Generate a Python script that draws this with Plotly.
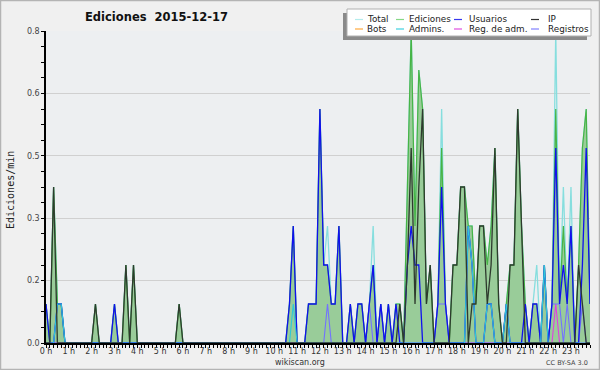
import plotly.graph_objects as go

# ---------------- data (edits per minute, 10-minute bins, 2015-12-17) ----------------
minutes = list(range(0, 1440, 10))
hour_labels = [f"{h} h" for h in range(24)]
y_tickvals = [0, 0.16, 0.32, 0.48, 0.64, 0.8]
y_ticktext = ["0.0", "0.2", "0.3", "0.5", "0.6", "0.8"]

total = [
    .1, 0, .4, .1, .1, 0,   # 0 h
    0, 0, 0, 0, 0, 0,       # 1 h
    0, .1, 0, 0, 0, 0,      # 2 h
    .1, 0, 0, .2, 0, .2,    # 3 h
    0, 0, 0, 0, 0, 0,       # 4 h
    0, 0, 0, 0, 0, .1,      # 5 h
    0, 0, 0, 0, 0, 0,       # 6 h
    0, 0, 0, 0, 0, 0,       # 7 h
    0, 0, 0, 0, 0, 0,       # 8 h
    0, 0, 0, 0, 0, 0,       # 9 h
    0, 0, 0, 0, .1, .3,     # 10 h
    0, 0, 0, .1, .1, .1,    # 11 h
    .6, .2, .3, .1, .1, .3, # 12 h
    0, 0, .1, 0, .1, .1,    # 13 h
    0, .1, .3, 0, .1, 0,    # 14 h
    .1, 0, .1, .1, 0, .4,   # 15 h
    .8, .3, .7, .6, .1, .2, # 16 h
    0, .1, .6, .1, 0, .2,   # 17 h
    .2, .4, .4, .3, .3, .1, # 18 h
    .3, .3, .2, .3, .5, .1, # 19 h
    0, .1, .2, .2, .6, .3,  # 20 h
    .1, 0, .1, .2, 0, .2,   # 21 h
    0, .1, .8, .1, .4, .1,  # 22 h
    .4, 0, .2, .5, .6, .1,  # 23 h
]

ediciones = [
    .1, 0, .4, .1, .1, 0,
    0, 0, 0, 0, 0, 0,
    0, .1, 0, 0, 0, 0,
    .1, 0, 0, .2, 0, .2,
    0, 0, 0, 0, 0, 0,
    0, 0, 0, 0, 0, .1,
    0, 0, 0, 0, 0, 0,
    0, 0, 0, 0, 0, 0,
    0, 0, 0, 0, 0, 0,
    0, 0, 0, 0, 0, 0,
    0, 0, 0, 0, .1, .3,
    0, 0, 0, .1, .1, .1,
    .6, .2, .2, .1, .1, .3,
    0, 0, .1, 0, .1, .1,
    0, .1, .2, 0, .1, 0,
    .1, 0, .1, .1, 0, .4,
    .8, .3, .7, .6, .1, .2,
    0, .1, .5, .1, 0, .2,
    .2, .4, .4, .3, .3, .1,
    .3, .3, .2, .3, .5, .1,
    0, .1, .2, .2, .6, .3,
    .1, 0, .1, .1, 0, .2,
    0, .1, .6, .1, .3, .1,
    .3, 0, .2, .5, .6, .1,
]

usuarios = [
    .1, 0, 0, .1, .1, 0,
    0, 0, 0, 0, 0, 0,
    0, 0, 0, 0, 0, 0,
    .1, 0, 0, 0, 0, 0,
    0, 0, 0, 0, 0, 0,
    0, 0, 0, 0, 0, 0,
    0, 0, 0, 0, 0, 0,
    0, 0, 0, 0, 0, 0,
    0, 0, 0, 0, 0, 0,
    0, 0, 0, 0, 0, 0,
    0, 0, 0, 0, .1, .3,
    0, 0, 0, .1, .1, .1,
    .6, .2, .2, .1, .1, .3,
    0, 0, .1, 0, .1, .1,
    0, .1, .2, 0, .1, 0,
    .1, 0, .1, 0, 0, .2,
    .3, .2, .2, 0, 0, 0,
    0, .1, .4, .1, 0, 0,
    0, 0, 0, .3, .2, 0,
    0, 0, .1, .1, 0, 0,
    0, .1, 0, 0, 0, 0,
    .1, 0, .1, .1, 0, .2,
    0, .1, .5, .1, .2, .1,
    .3, 0, 0, .2, .5, .1,
]

ip = [
    0, 0, .4, 0, 0, 0,
    0, 0, 0, 0, 0, 0,
    0, .1, 0, 0, 0, 0,
    0, 0, 0, .2, 0, .2,
    0, 0, 0, 0, 0, 0,
    0, 0, 0, 0, 0, .1,
    0, 0, 0, 0, 0, 0,
    0, 0, 0, 0, 0, 0,
    0, 0, 0, 0, 0, 0,
    0, 0, 0, 0, 0, 0,
    0, 0, 0, 0, 0, 0,
    0, 0, 0, 0, 0, 0,
    0, 0, 0, 0, 0, 0,
    0, 0, 0, 0, 0, 0,
    0, 0, 0, 0, 0, 0,
    0, 0, 0, .1, 0, .2,
    .5, .1, .4, .6, .1, .2,
    0, 0, 0, 0, 0, .2,
    .2, .4, .4, 0, .1, .1,
    .3, .3, .1, .2, .5, .1,
    0, 0, .2, .2, .6, .3,
    0, 0, 0, 0, 0, 0,
    0, 0, 0, 0, 0, 0,
    0, 0, .2, .1, 0, 0,
]

admins = [
    0, 0, 0, .1, .1, 0,
    0, 0, 0, 0, 0, 0,
    0, 0, 0, 0, 0, 0,
    0, 0, 0, 0, 0, 0,
    0, 0, 0, 0, 0, 0,
    0, 0, 0, 0, 0, 0,
    0, 0, 0, 0, 0, 0,
    0, 0, 0, 0, 0, 0,
    0, 0, 0, 0, 0, 0,
    0, 0, 0, 0, 0, 0,
    0, 0, 0, 0, 0, .1,
    0, 0, 0, 0, 0, 0,
    0, 0, 0, 0, 0, 0,
    0, 0, 0, 0, 0, 0,
    0, 0, 0, 0, 0, 0,
    0, 0, 0, 0, 0, 0,
    0, 0, 0, 0, 0, 0,
    0, 0, 0, 0, 0, 0,
    0, 0, 0, .3, .2, 0,
    0, 0, .1, .1, 0, 0,
    0, .1, 0, 0, 0, 0,
    0, 0, 0, 0, 0, .2,
    0, 0, 0, 0, 0, 0,
    0, 0, 0, 0, 0, 0,
]

registros = [
    0, 0, 0, 0, 0, 0,
    0, 0, 0, 0, 0, 0,
    0, 0, 0, 0, 0, 0,
    0, 0, 0, 0, 0, 0,
    0, 0, 0, 0, 0, 0,
    0, 0, 0, 0, 0, 0,
    0, 0, 0, 0, 0, 0,
    0, 0, 0, 0, 0, 0,
    0, 0, 0, 0, 0, 0,
    0, 0, 0, 0, 0, 0,
    0, 0, 0, 0, 0, 0,
    0, 0, 0, 0, 0, 0,
    0, 0, .1, 0, 0, 0,
    0, 0, 0, 0, 0, 0,
    0, .1, 0, 0, .1, 0,
    0, 0, 0, 0, 0, 0,
    0, 0, 0, 0, 0, 0,
    0, .1, .1, .1, 0, 0,
    0, 0, 0, 0, 0, 0,
    0, 0, 0, 0, 0, 0,
    0, 0, 0, 0, 0, 0,
    0, 0, 0, 0, 0, 0,
    0, .1, .1, .1, 0, .1,
    0, 0, 0, .1, 0, 0,
]

reg_adm = [
    0, 0, 0, 0, 0, 0,
    0, 0, 0, 0, 0, 0,
    0, 0, 0, 0, 0, 0,
    0, 0, 0, 0, 0, 0,
    0, 0, 0, 0, 0, 0,
    0, 0, 0, 0, 0, 0,
    0, 0, 0, 0, 0, 0,
    0, 0, 0, 0, 0, 0,
    0, 0, 0, 0, 0, 0,
    0, 0, 0, 0, 0, 0,
    0, 0, 0, 0, 0, 0,
    0, 0, 0, 0, 0, 0,
    0, 0, 0, 0, 0, 0,
    0, 0, 0, 0, 0, 0,
    0, 0, 0, 0, 0, 0,
    0, 0, 0, 0, 0, 0,
    0, 0, 0, 0, 0, 0,
    0, 0, 0, 0, 0, 0,
    0, 0, 0, 0, 0, 0,
    0, 0, 0, 0, 0, 0,
    0, 0, 0, 0, 0, 0,
    0, 0, 0, 0, 0, 0,
    0, 0, .1, 0, 0, 0,
    0, 0, 0, 0, 0, 0,
]

bots = [
    0, 0, 0, 0, 0, 0,
    0, 0, 0, 0, 0, 0,
    0, 0, 0, 0, 0, 0,
    0, 0, 0, 0, 0, 0,
    0, 0, 0, 0, 0, 0,
    0, 0, 0, 0, 0, 0,
    0, 0, 0, 0, 0, 0,
    0, 0, 0, 0, 0, 0,
    0, 0, 0, 0, 0, 0,
    0, 0, 0, 0, 0, 0,
    0, 0, 0, 0, 0, 0,
    0, 0, 0, 0, 0, 0,
    0, 0, 0, 0, 0, 0,
    0, 0, 0, 0, 0, 0,
    0, 0, 0, 0, 0, 0,
    0, 0, 0, 0, 0, 0,
    0, 0, 0, 0, 0, 0,
    0, 0, 0, 0, 0, 0,
    0, 0, 0, 0, 0, 0,
    0, 0, 0, 0, 0, 0,
    0, 0, 0, 0, 0, 0,
    0, 0, 0, 0, 0, 0,
    0, 0, 0, 0, 0, 0,
    0, 0, 0, 0, 0, 0,
]

series_names = ["Total", "Ediciones", "Usuarios", "IP", "Bots", "Admins.", "Reg. de adm.", "Registros"]
series_colors = {
    "Total": "#86dede",
    "Ediciones": "#46b446",
    "Usuarios": "#1010ee",
    "IP": "#2e3a2e",
    "Bots": "#ffa030",
    "Admins.": "#2ec8d8",
    "Reg. de adm.": "#e040e0",
    "Registros": "#7272ff",
}
legend_colors = {
    "Total": "#b4ecec",
    "Ediciones": "#86d886",
    "Usuarios": "#3838ee",
    "IP": "#333333",
    "Bots": "#ffaa40",
    "Admins.": "#40d0e0",
    "Reg. de adm.": "#e050e0",
    "Registros": "#8080ff",
}

# ---------------- geometry ----------------
W, H = 600, 370
ML, MR, MT, MB = 46, 10, 31, 27
PW, PH = W - ML - MR, H - MT - MB


def px(xp):
    return (xp - ML) / PW


def py(yp):
    return 1 - (yp - MT) / PH


x = [m / 60 for m in minutes]
FONT = "DejaVu Sans"

fig = go.Figure()


def add_line(name, ys, width, fill=None, fillcolor=None):
    fig.add_trace(go.Scatter(
        x=x, y=ys, mode="lines", name=name, showlegend=False,
        line=dict(color=series_colors[name], width=width),
        fill=fill, fillcolor=fillcolor, hoverinfo="skip",
    ))


add_line("Bots", bots, 1)
add_line("Total", total, 1.3)
add_line("Ediciones", ediciones, 1.2, fill="tozeroy", fillcolor="rgb(153,204,153)")
add_line("Reg. de adm.", reg_adm, 1.1)
add_line("Registros", registros, 1.1)
add_line("Usuarios", usuarios, 1.3)
add_line("Admins.", admins, 1.1)
add_line("IP", ip, 1.3)

shapes = []
annotations = []

# legend box (manual, to reproduce the compact 4x2 layout)
shapes.append(dict(type="rect", xref="paper", yref="paper",
                   x0=px(343), x1=px(587), y0=py(13), y1=py(40),
                   fillcolor="#8a8a8a", line=dict(width=0), layer="above"))
shapes.append(dict(type="rect", xref="paper", yref="paper",
                   x0=px(347), x1=px(591), y0=py(9), y1=py(36),
                   fillcolor="white", line=dict(color="#b0b0b0", width=1), layer="above"))
col_line_x = [355, 396, 454, 531]
col_text_x = [365, 407, 467, 546]
row_y = [19.5, 29]
for k, name in enumerate(series_names):
    r, c = divmod(k, 4)
    shapes.append(dict(type="line", xref="paper", yref="paper",
                       x0=px(col_line_x[c]), x1=px(col_line_x[c] + 8),
                       y0=py(row_y[r]), y1=py(row_y[r]),
                       line=dict(color=legend_colors[name], width=1.2), layer="above"))
    annotations.append(dict(text=name, xref="paper", yref="paper",
                            x=px(col_text_x[c]), y=py(row_y[r]),
                            xanchor="left", yanchor="middle", showarrow=False,
                            font=dict(family=FONT, size=8.8, color="#222222")))

# outer frame
shapes.append(dict(type="rect", xref="paper", yref="paper",
                   x0=px(0.5), x1=px(599.5), y0=py(0.5), y1=py(369.5),
                   line=dict(color="#b4b4b4", width=1.5), layer="below"))

annotations.append(dict(text="Ediciones/min", xref="paper", yref="paper",
                        x=px(10), y=py(190), textangle=-90, showarrow=False,
                        xanchor="center", yanchor="middle",
                        font=dict(family="DejaVu Sans Mono", size=10, color="#222222")))
annotations.append(dict(text="wikiscan.org", xref="paper", yref="paper",
                        x=px(300), y=py(362), showarrow=False,
                        xanchor="center", yanchor="middle",
                        font=dict(family=FONT, size=8, color="#333333")))
annotations.append(dict(text="CC BY-SA 3.0", xref="paper", yref="paper",
                        x=px(590), y=py(362.5), showarrow=False,
                        xanchor="right", yanchor="middle",
                        font=dict(family=FONT, size=6.5, color="#444444")))

fig.update_layout(
    width=W, height=H,
    margin=dict(l=ML, r=MR, t=MT, b=MB, pad=0),
    paper_bgcolor="#f0f0f0",
    plot_bgcolor="#edeff1",
    showlegend=False,
    title=dict(text="Ediciones\u00a0\u00a02015-12-17", x=85 / W, xanchor="left",
               xref="container", y=1 - 17 / H, yanchor="middle", yref="container",
               font=dict(family=FONT, size=11.5, color="#111111", weight="bold")),
    shapes=shapes,
    annotations=annotations,
    xaxis=dict(
        range=[0, minutes[-1] / 60], tickmode="array", tickvals=list(range(24)),
        ticktext=hour_labels, ticks="outside", ticklen=3, tickwidth=1, tickcolor="#000",
        ticklabelstandoff=-3,
        minor=dict(dtick=1 / 6, tick0=0, ticks="outside", ticklen=3, tickwidth=1, tickcolor="#000",
                   showgrid=False),
        showgrid=False, zeroline=False, showline=True, linecolor="#000", linewidth=1.5,
        tickfont=dict(family=FONT, size=8, color="#333333"),
        fixedrange=True,
    ),
    yaxis=dict(
        range=[0, 0.8], tickmode="array", tickvals=y_tickvals, ticktext=y_ticktext,
        ticks="outside", ticklen=3, tickwidth=1, tickcolor="#000",
        minor=dict(dtick=0.04, tick0=0, ticks="outside", ticklen=3, tickwidth=1, tickcolor="#000",
                   showgrid=False),
        showgrid=True, gridcolor="#d0d0d0", gridwidth=1,
        zeroline=False, showline=True, linecolor="#000", linewidth=1.5,
        tickfont=dict(family=FONT, size=8, color="#444444"),
        fixedrange=True,
    ),
)

fig.write_html("out.html", config={"displayModeBar": False},
               post_script="document.body.style.margin='0';document.body.style.overflow='hidden';")
